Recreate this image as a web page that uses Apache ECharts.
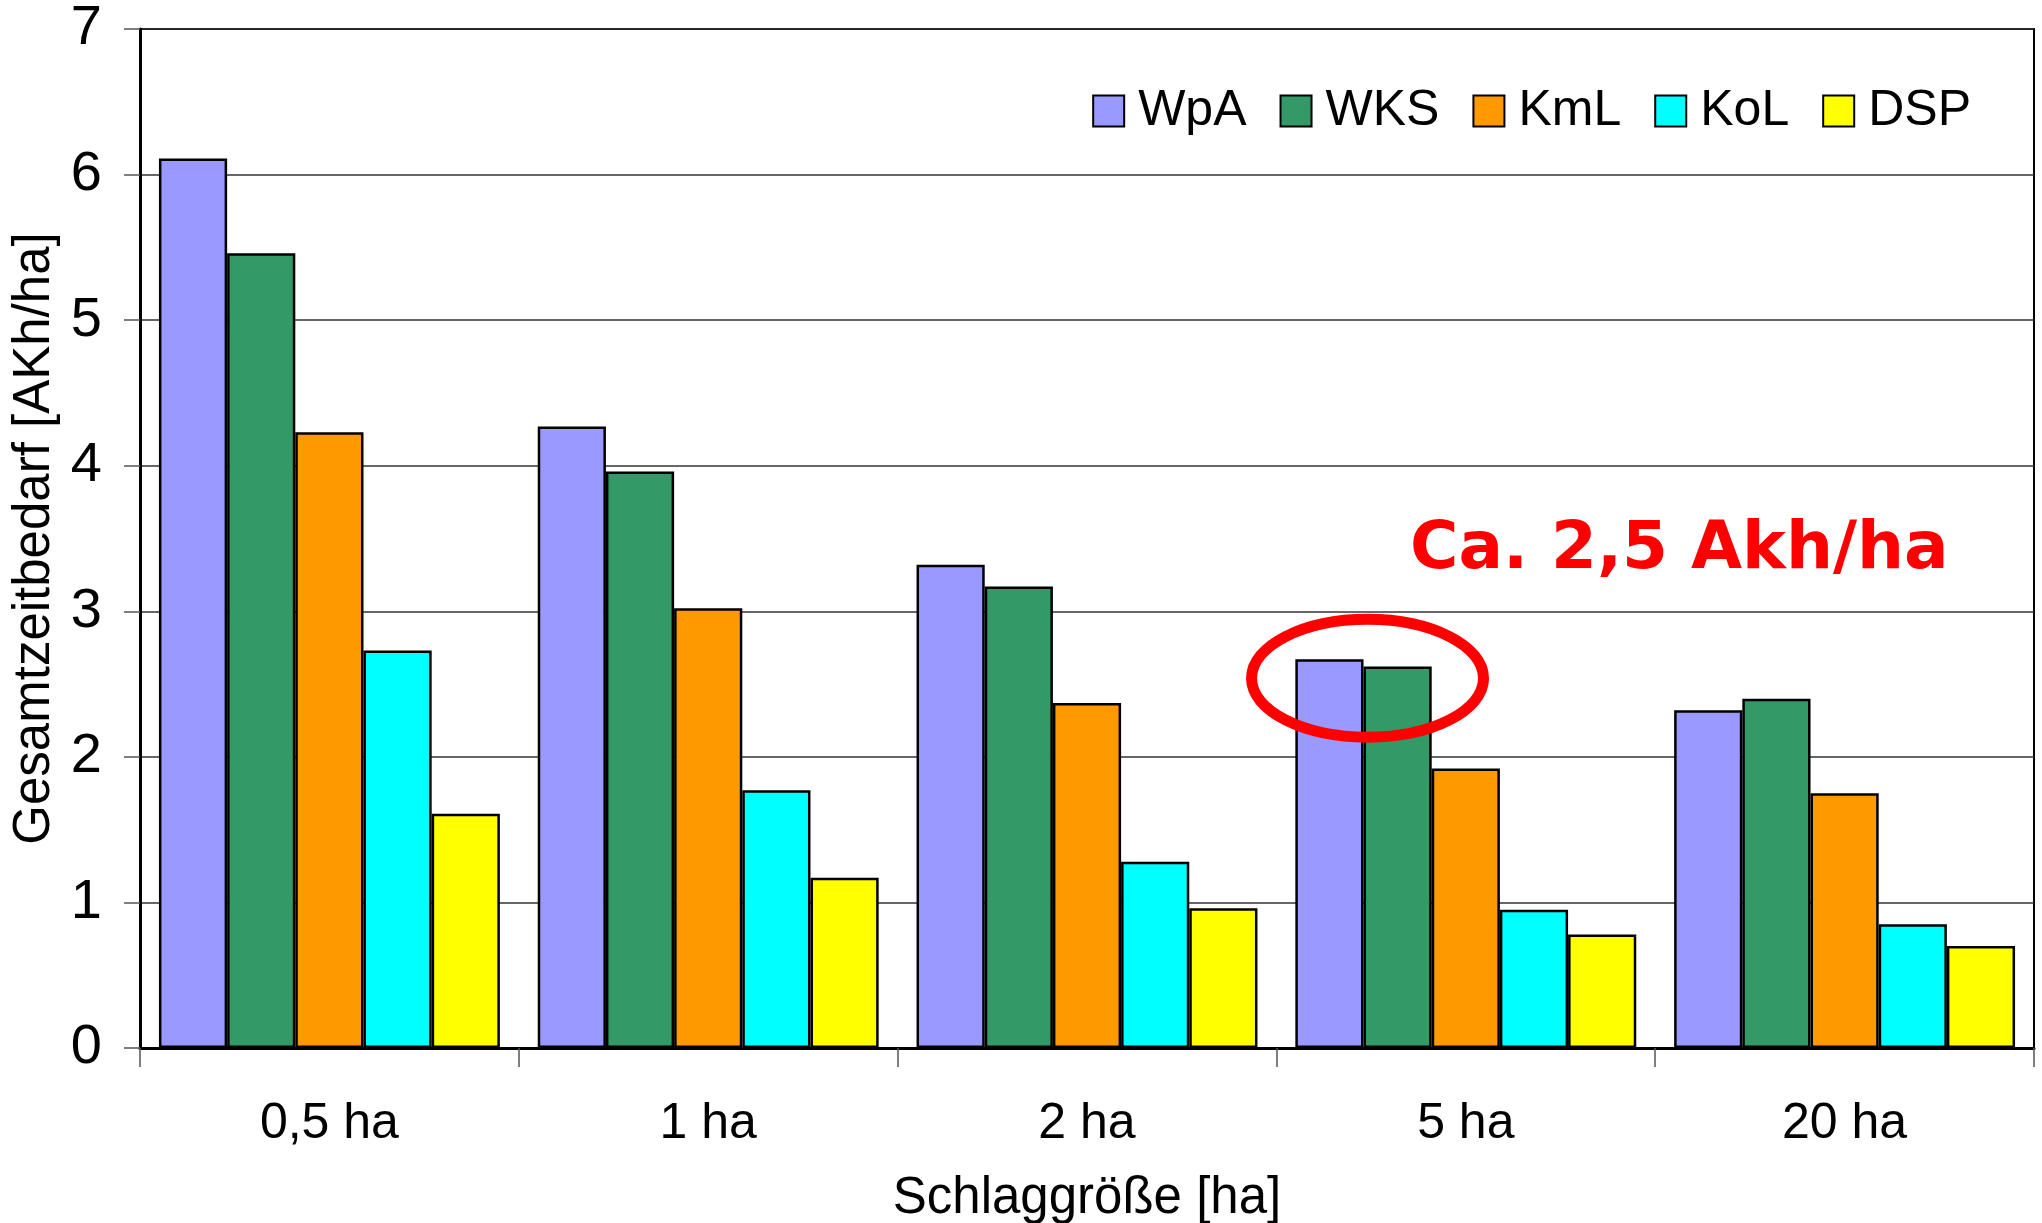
<!DOCTYPE html>
<html>
<head>
<meta charset="utf-8">
<script src="https://cdn.jsdelivr.net/npm/echarts@6/dist/echarts.min.js"></script>
<style>html,body{margin:0;padding:0;background:#fff}#c{width:2042px;height:1223px}</style>
</head>
<body>
<div id="c"></div>
<script>
const categories = ['0,5 ha', '1 ha', '2 ha', '5 ha', '20 ha'];
const seriesNames = ['WpA', 'WKS', 'KmL', 'KoL', 'DSP'];
const WpA = [6.11, 4.27, 3.32, 2.67, 2.32];
const WKS = [5.46, 3.96, 3.17, 2.62, 2.40];
const KmL = [4.23, 3.02, 2.37, 1.92, 1.75];
const KoL = [2.73, 1.77, 1.28, 0.95, 0.85];
const DSP = [1.61, 1.17, 0.96, 0.78, 0.70];
const yTicks = [0, 1, 2, 3, 4, 5, 6, 7];
const colors = ['#9999FF', '#339966', '#FF9900', '#00FFFF', '#FFFF00'];
const annotationText = 'Ca. 2,5 Akh/ha';
const annotationValue = 2.54;

const values = [WpA, WKS, KmL, KoL, DSP];
const font = '"Liberation Sans", Arial, sans-serif';

const chart = echarts.init(document.getElementById('c'));
const option = {
  animation: false,
  backgroundColor: '#fff',
  grid: { left: 140, right: 8, top: 29, bottom: 175, show: true, borderColor: '#000', borderWidth: 2,
    containLabel: false, outerBoundsMode: 'none' },
  legend: {
    data: seriesNames,
    right: 66, top: 81,
    itemWidth: 31, itemHeight: 31, itemGap: 33,
    icon: 'rect',
    textStyle: { fontSize: 50, fontFamily: font, color: '#000', padding: [0, 0, 0, 9] }
  },
  xAxis: {
    type: 'category',
    data: categories,
    name: 'Schlaggröße [ha]',
    nameLocation: 'middle',
    nameGap: 125,
    nameTextStyle: { fontSize: 51, fontFamily: font, color: '#000' },
    axisLine: { lineStyle: { color: '#000', width: 3 } },
    axisTick: { show: true, length: 19, lineStyle: { color: '#555', width: 1.5 } },
    axisLabel: { fontSize: 50, fontFamily: font, color: '#000', margin: 51 }
  },
  yAxis: {
    type: 'value',
    min: 0, max: 7, interval: 1,
    name: 'Gesamtzeitbedarf [AKh/ha]',
    nameLocation: 'middle',
    nameGap: 76,
    nameTextStyle: { fontSize: 51, fontFamily: font, color: '#000' },
    axisLine: { show: true, lineStyle: { color: '#000', width: 3 } },
    axisTick: { show: true, length: 16, lineStyle: { color: '#555', width: 1.5 } },
    axisLabel: { fontSize: 56, fontFamily: font, color: '#000', margin: 38,
      formatter: v => yTicks.includes(v) ? String(v) : '' },
    splitLine: { show: true, lineStyle: { color: '#333', width: 1.5 } }
  },
  series: seriesNames.map((n, i) => ({
    name: n,
    type: 'bar',
    data: values[i],
    barGap: '0%',
    barCategoryGap: '10%',
    itemStyle: { color: colors[i], borderColor: '#000', borderWidth: 2.5 }
  }))
};
chart.setOption(option);

const catCenter = chart.convertToPixel({ xAxisIndex: 0 }, categories[3]);
const band = (2042 - 140 - 8) / categories.length;
const barW = band * 0.9 / 5;
const cx = catCenter - 1.5 * barW + 4;
const cy = chart.convertToPixel({ yAxisIndex: 0 }, annotationValue);
chart.setOption({
  graphic: [
    { type: 'ellipse', shape: { cx: cx, cy: cy, rx: 116, ry: 59 },
      style: { fill: 'none', stroke: '#FF0000', lineWidth: 11 }, z: 100 },
    { type: 'text', left: 1410, top: 518,
      style: { text: annotationText, fill: '#FF0000', font: 'bold 66px "DejaVu Sans", Verdana, sans-serif' }, z: 100 }
  ]
});
</script>
</body>
</html>
